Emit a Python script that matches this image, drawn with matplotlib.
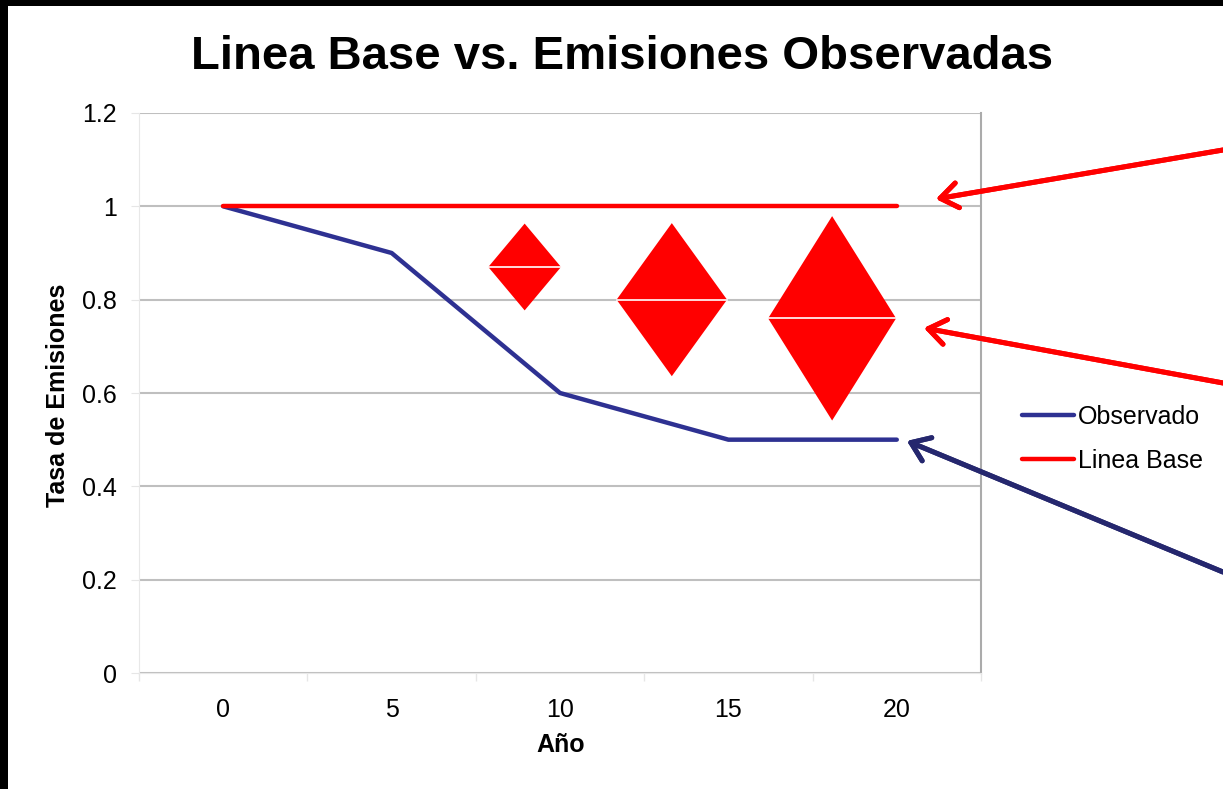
import matplotlib.pyplot as plt
from matplotlib.patches import Polygon, Rectangle

plt.rcParams['font.family'] = ['Liberation Sans', 'DejaVu Sans']

# datos
anios = [0, 5, 10, 15, 20]
observado = [1.0, 0.9, 0.6, 0.5, 0.5]
linea_base = [1.0, 1.0, 1.0, 1.0, 1.0]
y_ticks = [0, 0.2, 0.4, 0.6, 0.8, 1.0, 1.2]
y_labels = ['0', '0.2', '0.4', '0.6', '0.8', '1', '1.2']

# rombos (centro x, centro y, medio ancho, media altura)
rombo_x = [8.95, 13.32, 18.08]
rombo_y = [0.87, 0.80, 0.76]
rombo_w = [1.08, 1.64, 1.90]
rombo_h = [0.093, 0.164, 0.219]

azul = '#2E3192'
rojo = '#FF0000'
navy = '#25276E'

fig = plt.figure(figsize=(12.23, 7.89), dpi=100)
ax = fig.add_axes([0.1137, 0.1470, 0.6884, 0.7098])

ax.set_xlim(-2.5, 22.5)
ax.set_ylim(0, 1.2)
ax.set_yticks(y_ticks)
ax.set_yticklabels(y_labels)
ax.set_xticks(anios)
ax.set_xticklabels([str(a) for a in anios])
ax.set_xticks([-2.5, 2.5, 7.5, 12.5, 17.5, 22.5], minor=True)
ax.tick_params(axis='x', which='major', length=0, pad=18, labelsize=18)
ax.tick_params(axis='x', which='minor', length=6, color='#E6E6E6', width=1)
ax.tick_params(axis='y', length=6, color='#E6E6E6', pad=10, labelsize=18)

ax.grid(axis='y', color='#BFBFBF', linewidth=1.5, zorder=0)
ax.set_axisbelow(True)
ax.spines['top'].set_visible(False)
ax.spines['right'].set_color('#ABABAB')
ax.spines['right'].set_linewidth(1.5)
ax.spines['left'].set_color('#E8E8E8')
ax.spines['bottom'].set_color('#E8E8E8')

ax.plot(anios, observado, color=azul, linewidth=3.2, label='Observado',
        solid_capstyle='round', zorder=3)
ax.plot(anios, linea_base, color=rojo, linewidth=3.2, label='Linea Base',
        solid_capstyle='round', zorder=3)

for cx, cy, w, h in zip(rombo_x, rombo_y, rombo_w, rombo_h):
    ax.add_patch(Polygon([(cx, cy + h), (cx + w, cy), (cx, cy - h), (cx - w, cy)],
                         closed=True, facecolor=rojo, edgecolor='none', zorder=4))
    ax.plot([cx - w, cx + w], [cy, cy], color='white', linewidth=1.2, zorder=5)

fig.text(0.509, 0.928, 'Linea Base vs. Emisiones Observadas', ha='center', va='center',
         fontsize=34, fontweight='bold')
fig.text(0.0474, 0.4994, 'Tasa de Emisiones', ha='center', va='center', rotation=90,
         fontsize=18, fontweight='bold')
fig.text(0.4587, 0.0558, 'Año', ha='center', va='center', fontsize=18, fontweight='bold')

fig.legend(loc='center left', bbox_to_anchor=(0.817, 0.444), frameon=False, fontsize=18,
           handlelength=2.1, handletextpad=0.15, labelspacing=0.8)

# flechas
flechas = [((0.7653, 0.7478), (1.0, 0.8099), rojo),
           ((0.7555, 0.5843), (1.0, 0.5146), rojo),
           ((0.7416, 0.4411), (1.0, 0.2750), navy)]
for punta, cola, c in flechas:
    fig.add_artist(plt.annotate('', xy=punta, xycoords='figure fraction', xytext=cola,
                                textcoords='figure fraction', annotation_clip=False,
                                arrowprops=dict(arrowstyle='->,head_length=0.5,head_width=0.36',
                                                color=c, lw=3.6, shrinkA=0, shrinkB=0,
                                                mutation_scale=25)))

# borde negro arriba e izquierda
fig.patches.append(Rectangle((0, 0), 8 / 1223, 1, transform=fig.transFigure,
                             facecolor='black', edgecolor='none', zorder=10))
fig.patches.append(Rectangle((0, 1 - 6 / 789), 1, 6 / 789, transform=fig.transFigure,
                             facecolor='black', edgecolor='none', zorder=10))

fig.savefig('out.png', dpi=100)
